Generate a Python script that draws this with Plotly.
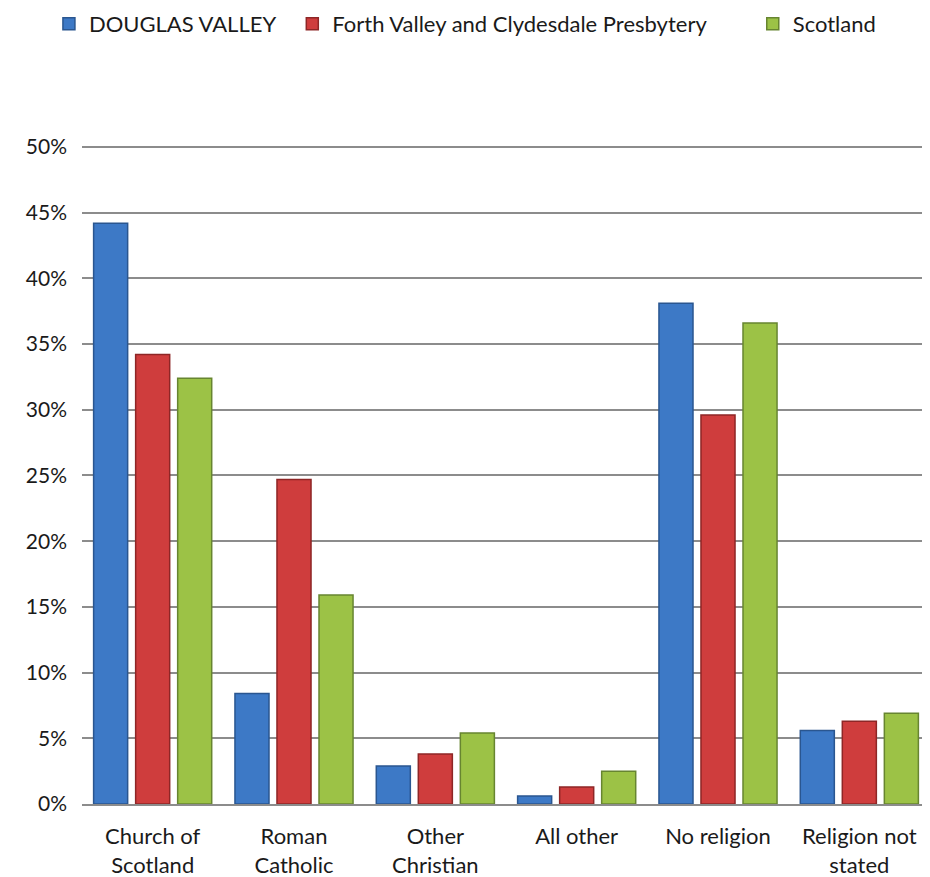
import plotly.graph_objects as go

# Religion by area (share of population)
categories = ["Church of<br>Scotland", "Roman<br>Catholic", "Other<br>Christian",
              "All other", "No religion", "Religion not<br>stated"]
douglas_valley = [0.442, 0.084, 0.029, 0.006, 0.381, 0.056]
forth_valley = [0.342, 0.247, 0.038, 0.013, 0.296, 0.063]
scotland = [0.324, 0.159, 0.054, 0.025, 0.366, 0.069]

y_ticks = [0, 0.05, 0.10, 0.15, 0.20, 0.25, 0.30, 0.35, 0.40, 0.45, 0.50]

# name, values, fill, outline, legend id, legend x
series = [
    ("DOUGLAS VALLEY", douglas_valley, "#3d79c6", "#2a5690", "legend", -0.039),
    ("Forth Valley and Clydesdale Presbytery", forth_valley, "#cf3d3d", "#8e2626", "legend2", 0.248),
    ("Scotland", scotland, "#9cc246", "#678530", "legend3", 0.791),
]

font = "Lato, 'Liberation Sans', sans-serif"

fig = go.Figure()
legends = {}
for name, vals, fill, edge, leg, lx in series:
    fig.add_trace(go.Bar(
        x=categories, y=vals, name=name, legend=leg,
        marker=dict(color=fill, line=dict(color=edge, width=1.5)),
    ))
    legends[leg] = dict(orientation="h", x=lx, xanchor="left",
                        yref="container", y=0.9816, yanchor="middle",
                        font=dict(size=22), itemwidth=30, bgcolor="rgba(0,0,0,0)")

# page body adds 8px, so the figure is sized to fit the window
fig.update_layout(
    width=922, height=869,
    margin=dict(l=74, r=0, t=135, b=73, autoexpand=False),
    paper_bgcolor="white", plot_bgcolor="white",
    font=dict(family=font, size=22, color="#1a1a1a"),
    barmode="group", bargap=0.108, bargroupgap=0.19,
    showlegend=True,
    **legends,
)
fig.update_yaxes(
    range=[0, 0.503], tickvals=y_ticks, tickformat=".0%",
    showgrid=True, gridcolor="#8c8c8c", gridwidth=1.5,
    ticks="", showline=False, zeroline=False, ticklabelstandoff=14,
    tickfont=dict(size=21), automargin=False,
)
fig.update_xaxes(
    showline=True, linecolor="#8c8c8c", linewidth=1.5,
    ticks="", tickfont=dict(size=22), ticklabelstandoff=12, automargin=False,
)

fig.write_html("out.html")
